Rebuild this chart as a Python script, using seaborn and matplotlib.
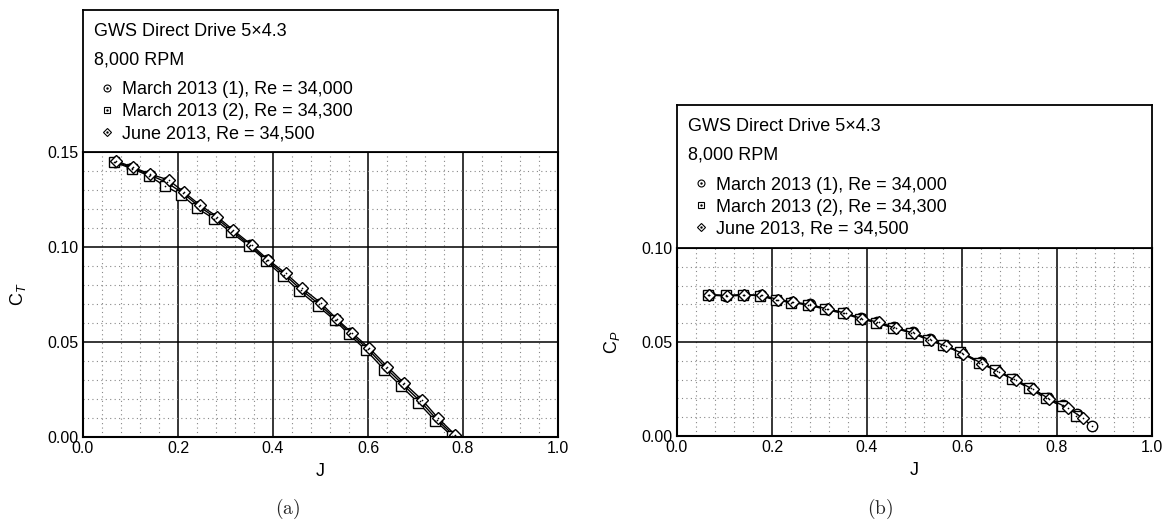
import numpy as np
import pandas as pd
import matplotlib
matplotlib.use('Agg')
import matplotlib.pyplot as plt
import seaborn as sns
from matplotlib.lines import Line2D
from matplotlib.ticker import MultipleLocator

sns.set_theme(style='white')
plt.rcParams['font.family'] = ['Liberation Sans', 'DejaVu Sans']
plt.rcParams['mathtext.fontset'] = 'custom'
plt.rcParams['mathtext.rm'] = 'Liberation Sans'
plt.rcParams['mathtext.it'] = 'Liberation Sans:italic'

# Series labels
series_names = ['March 2013 (1), Re = 34,000',
                'March 2013 (2), Re = 34,300',
                'June 2013, Re = 34,500']

# (a) thrust coefficient
J_ct_m1 = [0.068, 0.104, 0.140, 0.176, 0.211, 0.244, 0.280, 0.314, 0.352, 0.388, 0.424,
           0.459, 0.497, 0.533, 0.563, 0.600, 0.638, 0.673, 0.710, 0.745, 0.781]
ct_m1 = [0.1450, 0.1416, 0.1380, 0.1340, 0.1282, 0.1214, 0.1153, 0.1084, 0.1008, 0.0929, 0.0855,
         0.0776, 0.0699, 0.0617, 0.0545, 0.0462, 0.0362, 0.0277, 0.0188, 0.0092, 0.0007]
J_ct_m2 = [0.066, 0.103, 0.138, 0.172, 0.207, 0.240, 0.276, 0.311, 0.350, 0.386, 0.420,
           0.455, 0.494, 0.530, 0.560, 0.596, 0.634, 0.669, 0.706, 0.742, 0.777]
ct_m2 = [0.1447, 0.1412, 0.1376, 0.1322, 0.1275, 0.1205, 0.1148, 0.1078, 0.1005, 0.0925, 0.0848,
         0.0770, 0.0690, 0.0615, 0.0540, 0.0457, 0.0355, 0.0270, 0.0180, 0.0085, 0.0005]
J_ct_jun = [0.069, 0.106, 0.141, 0.180, 0.213, 0.246, 0.283, 0.316, 0.355, 0.390, 0.427,
            0.462, 0.500, 0.535, 0.566, 0.603, 0.641, 0.676, 0.714, 0.748, 0.784]
ct_jun = [0.1454, 0.1419, 0.1384, 0.1353, 0.1288, 0.1221, 0.1159, 0.1089, 0.1011, 0.0932, 0.0861,
          0.0782, 0.0707, 0.0619, 0.0549, 0.0467, 0.0370, 0.0283, 0.0195, 0.0098, 0.0010]

# (b) power coefficient
J_cp_m1 = [0.067, 0.104, 0.140, 0.177, 0.211, 0.243, 0.279, 0.315, 0.352, 0.387, 0.422, 0.457,
           0.496, 0.532, 0.563, 0.600, 0.640, 0.674, 0.710, 0.746, 0.780, 0.812, 0.843, 0.873]
cp_m1 = [0.0749, 0.0745, 0.0748, 0.0748, 0.0726, 0.0712, 0.0700, 0.0677, 0.0656, 0.0627, 0.0608, 0.0578,
         0.0552, 0.0514, 0.0485, 0.0443, 0.0392, 0.0348, 0.0304, 0.0255, 0.0204, 0.0165, 0.0118, 0.0055]
J_cp_m2 = [0.066, 0.103, 0.138, 0.174, 0.209, 0.240, 0.276, 0.312, 0.349, 0.385, 0.419, 0.454,
           0.492, 0.528, 0.560, 0.596, 0.636, 0.670, 0.706, 0.742, 0.776, 0.810, 0.840]
cp_m2 = [0.0752, 0.0748, 0.0752, 0.0746, 0.0723, 0.0710, 0.0697, 0.0674, 0.0652, 0.0625, 0.0602, 0.0575,
         0.0550, 0.0512, 0.0483, 0.0445, 0.0390, 0.0350, 0.0303, 0.0253, 0.0201, 0.0158, 0.0108]
J_cp_jun = [0.068, 0.105, 0.141, 0.179, 0.213, 0.245, 0.281, 0.317, 0.355, 0.389, 0.425, 0.460,
            0.499, 0.535, 0.566, 0.603, 0.643, 0.677, 0.713, 0.749, 0.783, 0.824, 0.855]
cp_jun = [0.0751, 0.0746, 0.0750, 0.0750, 0.0725, 0.0711, 0.0698, 0.0675, 0.0654, 0.0624, 0.0605, 0.0573,
          0.0547, 0.0508, 0.0478, 0.0437, 0.0385, 0.0340, 0.0296, 0.0249, 0.0199, 0.0147, 0.0094]

markers = ['o', 's', 'D']
msizes = [7.5, 6.5, 6]
leg_msizes = [5, 4.2, 3.8]

W, H = 1167, 523
fig = plt.figure(figsize=(W / 100, H / 100), dpi=100)


def px_rect(left, top, right, bottom):
    return [left / W, 1 - bottom / H, (right - left) / W, (bottom - top) / H]


def draw_panel(ax, data, ymax, ylabel):
    for (jj, cc), m, ms in zip(data, markers, msizes):
        df = pd.DataFrame({'J': jj, 'C': cc})
        sns.lineplot(data=df, x='J', y='C', ax=ax, sort=False, estimator=None,
                     color='black', lw=1.0, marker=m, markersize=ms,
                     markerfacecolor='white', markeredgecolor='black',
                     markeredgewidth=1.0)
        sns.scatterplot(data=df, x='J', y='C', ax=ax, marker='.', s=6,
                        color='black', linewidth=0, zorder=5)
    ax.set_xlim(0, 1)
    ax.set_ylim(0, ymax)
    ax.xaxis.set_major_locator(MultipleLocator(0.2))
    ax.xaxis.set_minor_locator(MultipleLocator(0.04))
    ax.yaxis.set_major_locator(MultipleLocator(0.05))
    ax.yaxis.set_minor_locator(MultipleLocator(0.01))
    ax.grid(which='major', color='black', lw=1.1)
    ax.grid(which='minor', color='#888888', lw=0.8, ls=(0, (1, 3)))
    ax.set_axisbelow(True)
    ax.tick_params(which='both', length=0, labelsize=11.5, pad=3, colors='black')
    ax.xaxis.set_major_formatter(matplotlib.ticker.FormatStrFormatter('%.1f'))
    ax.yaxis.set_major_formatter(matplotlib.ticker.FormatStrFormatter('%.2f'))
    for s in ax.spines.values():
        s.set_color('black')
        s.set_linewidth(1.5)
    ax.set_xlabel('J', fontsize=13, labelpad=5, color='black')
    ax.set_ylabel(ylabel, fontsize=13, labelpad=14, color='black')


def draw_box(ax):
    ax.set_xlim(0, 475)
    ax.set_ylim(0, 142)
    ax.set_xticks([])
    ax.set_yticks([])
    for s in ax.spines.values():
        s.set_color('black')
        s.set_linewidth(1.3)
    ax.text(11, 121, 'GWS Direct Drive 5\u00d74.3', fontsize=13, va='center', ha='left', color='black')
    ax.text(11, 92, '8,000 RPM', fontsize=13, va='center', ha='left', color='black')
    handles = []
    for m, ms in zip(markers, leg_msizes):
        h1 = Line2D([], [], ls='none', marker=m, markersize=ms, markerfacecolor='white',
                    markeredgecolor='black', markeredgewidth=0.8)
        h2 = Line2D([], [], ls='none', marker='.', markersize=1.5, color='black')
        handles.append((h1, h2))
    leg = ax.legend(handles, series_names, loc='upper left', bbox_to_anchor=(0.031, 0.50),
                    frameon=False, fontsize=13, handlelength=1.0, handletextpad=0.35,
                    labelspacing=0.28, borderaxespad=0, borderpad=0)
    for t in leg.get_texts():
        t.set_color('black')


# left panel
ax1 = fig.add_axes(px_rect(83, 152, 558, 437))
box1 = fig.add_axes(px_rect(83, 10, 558, 152))
draw_panel(ax1, [(J_ct_m1, ct_m1), (J_ct_m2, ct_m2), (J_ct_jun, ct_jun)], 0.15, 'C$_{T}$')
draw_box(box1)

# right panel
ax2 = fig.add_axes(px_rect(677, 248, 1152, 436))
box2 = fig.add_axes(px_rect(677, 105, 1152, 248))
draw_panel(ax2, [(J_cp_m1, cp_m1), (J_cp_m2, cp_m2), (J_cp_jun, cp_jun)], 0.10, 'C$_{P}$')
draw_box(box2)

fig.text(288 / W, 1 - 509 / H, r'$\mathrm{(a)}$', fontsize=14, math_fontfamily='cm',
         ha='center', va='center')
fig.text(880 / W, 1 - 509 / H, r'$\mathrm{(b)}$', fontsize=14, math_fontfamily='cm',
         ha='center', va='center')

fig.savefig('out.png', dpi=100)
